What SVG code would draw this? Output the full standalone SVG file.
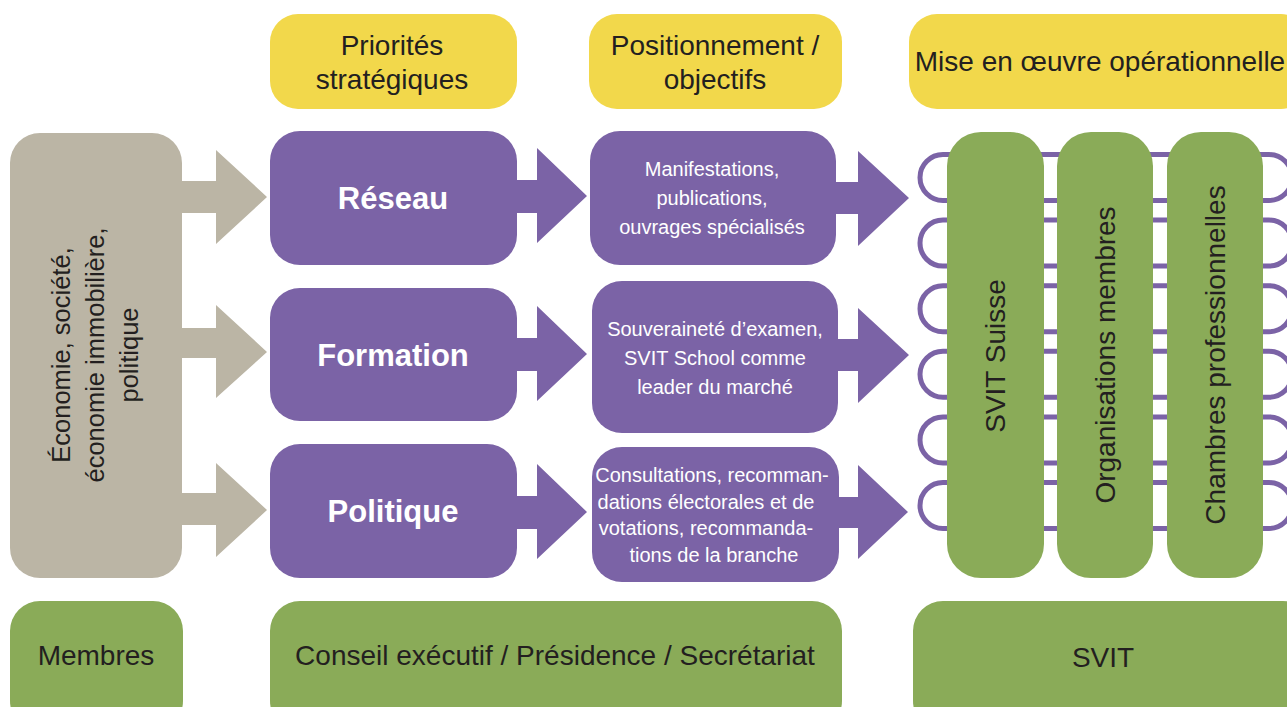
<svg xmlns="http://www.w3.org/2000/svg" width="1287" height="707" viewBox="0 0 1287 707">
<style>
text{font-family:"Liberation Sans",Arial,sans-serif;fill:#231f20}
.y{fill:#f2d84b}.p{fill:#7b63a6}.g{fill:#8aab58}.b{fill:#bbb5a5}
.t24{font-size:28px;text-anchor:middle}
.lt{font-size:25.5px;text-anchor:middle}
.vt{font-size:28px;text-anchor:middle}
.w{fill:#fff;font-size:20px;text-anchor:middle}
.wb{fill:#fff;font-size:31px;font-weight:bold;text-anchor:middle}
.ring{fill:none;stroke:#7b63a6;stroke-width:5}
</style>
<rect width="1287" height="707" fill="#fff"/>
<g id="head1"><rect class="y" x="270" y="14" width="247" height="95" rx="28"/><text class="t24" x="392" y="55">Priorités</text><text class="t24" x="392" y="89">stratégiques</text></g>
<g id="head2"><rect class="y" x="589" y="14" width="253" height="95" rx="28"/><text class="t24" x="715" y="55">Positionnement /</text><text class="t24" x="715" y="89">objectifs</text></g>
<g id="head3"><rect class="y" x="909" y="14" width="400" height="95" rx="28"/><text class="t24" x="1100" y="71">Mise en œuvre opérationnelle</text></g>
<g id="connectors">
<g class="b">
<path d="M175 181H216V150L267 197L216 244V213H175Z"/>
<path d="M175 328H216V305L267 352L216 398V358H175Z"/>
<path d="M175 493H216V463L267 510L216 557V525H175Z"/>
</g>
<g class="p">
<path d="M515 180H537V148L587 196L537 243V213H515Z"/>
<path d="M515 338H537V306L587 354L537 401V371H515Z"/>
<path d="M515 496H537V464L587 512L537 559V529H515Z"/>
<path d="M834 182H858V151L909 198L858 246V214H834Z"/>
<path d="M836 339H858V308L909 355L858 403V371H836Z"/>
<path d="M837 497H858V465L908 512L858 559V528H837Z"/>
</g>
<g id="rings">
<rect class="ring" x="920" y="154.5" width="372" height="46" rx="23"/>
<rect class="ring" x="920" y="220.1" width="372" height="46" rx="23"/>
<rect class="ring" x="920" y="285.7" width="372" height="46" rx="23"/>
<rect class="ring" x="920" y="351.3" width="372" height="46" rx="23"/>
<rect class="ring" x="920" y="416.9" width="372" height="46" rx="23"/>
<rect class="ring" x="920" y="482.5" width="372" height="46" rx="23"/>
</g>
</g>
<g id="env"><rect class="b" x="10" y="133" width="172" height="445" rx="30"/>
<text class="lt" transform="translate(70 355) rotate(-90)">Économie, société,</text>
<text class="lt" transform="translate(104 355) rotate(-90)">économie immobilière,</text>
<text class="lt" transform="translate(138 355) rotate(-90)">politique</text></g>
<g id="reseau"><rect class="p" x="270" y="131" width="247" height="134" rx="30"/><text class="wb" x="393" y="209">Réseau</text></g>
<g id="formation"><rect class="p" x="270" y="288" width="247" height="133" rx="30"/><text class="wb" x="393" y="366">Formation</text></g>
<g id="politique"><rect class="p" x="270" y="444" width="247" height="134" rx="30"/><text class="wb" x="393" y="522">Politique</text></g>
<g id="pos1"><rect class="p" x="590" y="131" width="246" height="134" rx="30"/>
<text class="w" x="712" y="176">Manifestations,</text><text class="w" x="712" y="205">publications,</text><text class="w" x="712" y="234">ouvrages spécialisés</text></g>
<g id="pos2"><rect class="p" x="592" y="281" width="246" height="152" rx="30"/>
<text class="w" x="715" y="336">Souveraineté d’examen,</text><text class="w" x="715" y="365">SVIT School comme</text><text class="w" x="715" y="394">leader du marché</text></g>
<g id="pos3"><rect class="p" x="592" y="447" width="247" height="135" rx="30"/>
<text class="w" x="712" y="482">Consultations, recomman-</text><text class="w" x="706" y="509">dations électorales et de</text><text class="w" x="706" y="535">votations, recommanda-</text><text class="w" x="714" y="562">tions de la branche</text></g>
<g id="svit-suisse"><rect class="g" x="947" y="132" width="97" height="446" rx="34"/><text class="vt" transform="translate(1005 356) rotate(-90)">SVIT Suisse</text></g>
<g id="org-membres"><rect class="g" x="1057" y="132" width="96" height="446" rx="34"/><text class="vt" transform="translate(1115 355) rotate(-90)">Organisations membres</text></g>
<g id="chambres"><rect class="g" x="1167" y="132" width="96" height="446" rx="34"/><text class="vt" transform="translate(1225 355) rotate(-90)">Chambres professionnelles</text></g>
<g id="membres"><rect class="g" x="10" y="601" width="173" height="130" rx="30"/><text class="t24" x="96" y="665">Membres</text></g>
<g id="conseil"><rect class="g" x="270" y="601" width="572" height="130" rx="30"/><text class="t24" x="555" y="665">Conseil exécutif / Présidence / Secrétariat</text></g>
<g id="svit"><rect class="g" x="913" y="601" width="400" height="130" rx="30"/><text class="t24" x="1103" y="667">SVIT</text></g>
</svg>
